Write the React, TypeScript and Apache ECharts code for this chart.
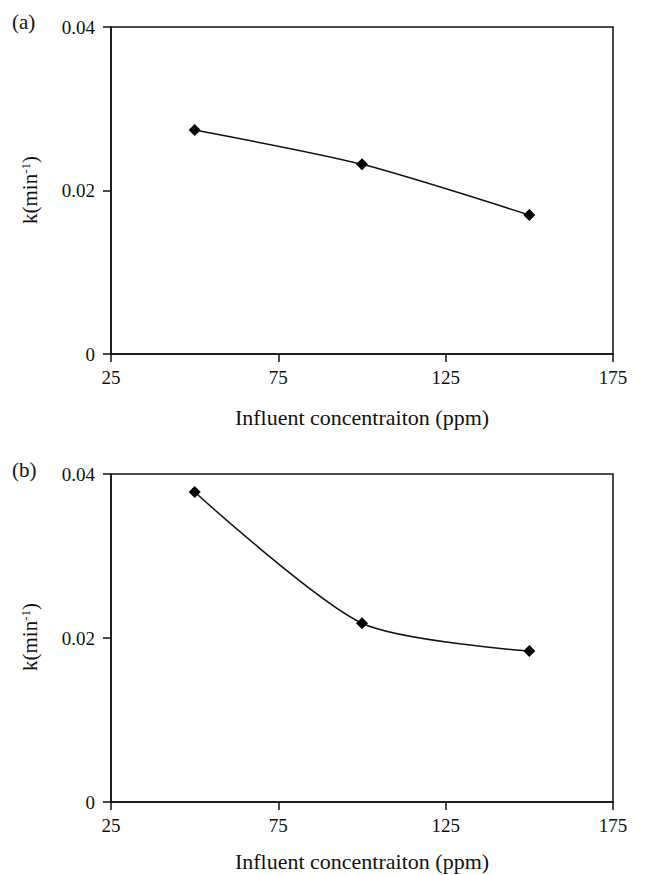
import React, { useEffect, useRef } from "react";
import * as echarts from "echarts";

// Influent concentration (ppm) and first-order rate constants k (min^-1)
const concentrations = [50, 100, 150];
const kPanelA = [0.0274, 0.0232, 0.017];
const kPanelB = [0.0378, 0.0218, 0.0184];
const xTicks = { min: 25, max: 175, interval: 50 };
const yTicks = { min: 0, max: 0.04, interval: 0.02 };
const panelTags = ["(a)", "(b)"];
const xTitle = "Influent concentraiton (ppm)";

const FONT = "'Liberation Serif', 'Times New Roman', serif";
const INK = "#111";

const grids = [
  { left: 111, top: 27, width: 502, height: 327 },
  { left: 111, top: 474, width: 502, height: 328 },
];

function xAxisFor(gridIndex: number, nameGap: number) {
  return {
    type: "value",
    gridIndex,
    min: xTicks.min,
    max: xTicks.max,
    interval: xTicks.interval,
    name: xTitle,
    nameLocation: "middle",
    nameGap,
    nameTextStyle: { fontFamily: FONT, fontSize: 22, color: INK },
    axisLine: { show: true, onZero: false, lineStyle: { color: INK, width: 1.5 } },
    axisTick: { show: true, inside: false, length: 8, lineStyle: { color: INK, width: 1.5 } },
    axisLabel: { margin: 14, fontFamily: FONT, fontSize: 19, color: INK },
    splitLine: { show: false },
  };
}

function yAxisFor(gridIndex: number) {
  return {
    type: "value",
    gridIndex,
    min: yTicks.min,
    max: yTicks.max,
    interval: yTicks.interval,
    axisLine: { show: true, onZero: false, lineStyle: { color: INK, width: 1.5 } },
    axisTick: { show: true, inside: false, length: 8, lineStyle: { color: INK, width: 1.5 } },
    axisLabel: {
      margin: 16,
      fontFamily: FONT,
      fontSize: 19,
      color: INK,
      formatter: (v: number) => (v === 0 ? "0" : v.toFixed(2)),
    },
    splitLine: { show: false },
  };
}

function seriesFor(idx: number, values: number[]) {
  return {
    type: "line",
    xAxisIndex: idx,
    yAxisIndex: idx,
    data: concentrations.map((c, i) => [c, values[i]]),
    smooth: 0.25,
    symbol: "diamond",
    symbolSize: 12,
    itemStyle: { color: "#000" },
    lineStyle: { color: "#111", width: 1.5 },
  };
}

function kLabel(cx: number, cy: number) {
  return {
    type: "text",
    x: cx,
    y: cy,
    rotation: Math.PI / 2,
    style: {
      text: "k(min{sup|-1})",
      fontFamily: FONT,
      fontSize: 21,
      fill: INK,
      align: "center",
      verticalAlign: "middle",
      rich: {
        sup: { fontFamily: FONT, fontSize: 13, verticalAlign: "top", padding: [0, 0, 9, 0], fill: INK },
      },
    },
  };
}

export default function App() {
  const ref = useRef<HTMLDivElement>(null);

  useEffect(() => {
    if (!ref.current) return;
    const chart = echarts.init(ref.current, undefined, { renderer: "svg" });
    chart.setOption({
      animation: false,
      backgroundColor: "#fff",
      grid: grids.map((g) => ({
        ...g,
        show: true,
        borderColor: INK,
        borderWidth: 1.5,
        backgroundColor: "transparent",
        containLabel: false,
      })),
      xAxis: [xAxisFor(0, 52), xAxisFor(1, 48)],
      yAxis: [yAxisFor(0), yAxisFor(1)],
      series: [seriesFor(0, kPanelA), seriesFor(1, kPanelB)],
      graphic: [
        {
          type: "text",
          left: 12,
          top: 11,
          style: { text: panelTags[0], fontFamily: FONT, fontSize: 21, fill: INK },
        },
        {
          type: "text",
          left: 12,
          top: 459,
          style: { text: panelTags[1], fontFamily: FONT, fontSize: 21, fill: INK },
        },
        kLabel(30, 190),
        kLabel(30, 637),
      ],
    });
    return () => chart.dispose();
  }, []);

  return (
    <div
      ref={ref}
      style={{ position: "fixed", left: 0, top: 0, width: 657, height: 875, background: "#fff" }}
    />
  );
}
